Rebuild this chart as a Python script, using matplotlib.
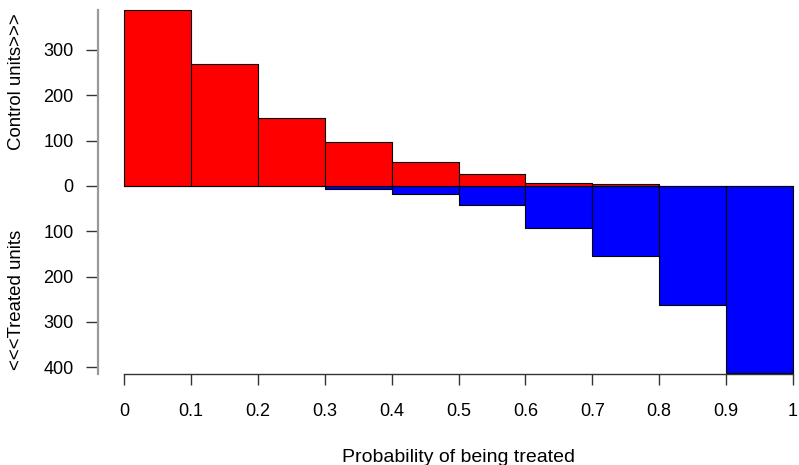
import numpy as np
import matplotlib
matplotlib.use("Agg")
import matplotlib.pyplot as plt

plt.rcParams['font.family'] = ['Liberation Sans', 'DejaVu Sans']

# Histogram bins of the propensity score
bin_edges = [0.0, 0.1, 0.2, 0.3, 0.4, 0.5, 0.6, 0.7, 0.8, 0.9, 1.0]
control_counts = [388, 270, 150, 96, 53, 27, 6, 5, 0, 0]
treated_counts = [0, 1, 1, 7, 17, 43, 93, 154, 263, 413]

x_ticks = [0, 0.1, 0.2, 0.3, 0.4, 0.5, 0.6, 0.7, 0.8, 0.9, 1]
x_tick_labels = ["0", "0.1", "0.2", "0.3", "0.4", "0.5", "0.6", "0.7", "0.8", "0.9", "1"]
y_ticks = [300, 200, 100, 0, -100, -200, -300, -400]
y_tick_labels = ["300", "200", "100", "0", "100", "200", "300", "400"]

W, H = 799, 465
fig = plt.figure(figsize=(W / 100, H / 100), dpi=100)
ax_left, ax_right, ax_top, ax_bottom = 98, 793, 10, 374
ax = fig.add_axes([ax_left / W, 1 - ax_bottom / H, (ax_right - ax_left) / W, (ax_bottom - ax_top) / H])

px_per_x = (793 - 124) / 1.0
ax.set_xlim(-(124 - ax_left) / px_per_x, 1.0)
ax.set_ylim(-414.7, 388)

edges = np.array(bin_edges)
widths = np.diff(edges)
ax.bar(edges[:-1], -np.array(treated_counts), width=widths, align='edge',
       color='#0000FF', edgecolor='black', linewidth=0.8, zorder=2, clip_on=False)
ax.bar(edges[:-1], control_counts, width=widths, align='edge',
       color='#FF0000', edgecolor='black', linewidth=0.8, zorder=3, clip_on=False)

for s in ['top', 'right']:
    ax.spines[s].set_visible(False)
ax.spines['left'].set_color('#999999')
ax.spines['left'].set_linewidth(1.6)
ax.spines['bottom'].set_color('#333333')
ax.spines['bottom'].set_linewidth(1.0)
ax.spines['bottom'].set_bounds(0, 1)

ax.set_xticks(x_ticks)
ax.set_xticklabels(x_tick_labels)
ax.set_yticks(y_ticks)
ax.set_yticklabels(y_tick_labels)
ax.tick_params(axis='x', length=8, width=1.0, color='#333333', pad=13, labelsize=13)
ax.tick_params(axis='y', length=8.6, width=1.0, color='#333333', pad=9, labelsize=13)

fig.text(17 / W, 1 - 82 / H, "Control units>>>", rotation=90, ha='center', va='center', fontsize=13.4)
fig.text(17 / W, 1 - 300 / H, "<<<Treated units", rotation=90, ha='center', va='center', fontsize=13.4)
fig.text(458 / W, 1 - 462 / H, "Probability of being treated", ha='center', va='baseline', fontsize=14)

fig.savefig("out.png", dpi=100)
